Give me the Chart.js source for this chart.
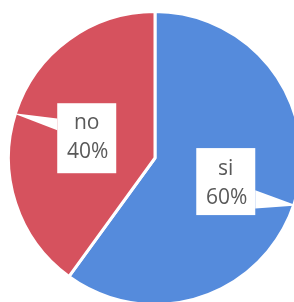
<!DOCTYPE html>
<html><head><meta charset="utf-8">
<script src="https://cdn.jsdelivr.net/npm/chart.js@4/dist/chart.umd.min.js"></script>
<style>
html,body{margin:0;padding:0;background:#fff;overflow:hidden;width:294px;height:302px;}
#wrap{position:absolute;left:-5px;top:-2px;width:320px;height:320px;}
</style></head>
<body>
<div id="wrap"><canvas id="c" width="320" height="320"></canvas></div>
<script>
const categories = ["si", "no"];
const values = [60, 40];
const percentLabels = ["60%", "40%"];
const colors = ["#558bdc", "#d6525e"];

// callout geometry in units of pie radius (box center, box size, pointer)
const callouts = [
  {cx: 0.483, cy: 0.161, w: 59, h: 67, side: 'right', b1: 0.22, b2: 0.345, tipAng: 18.5},
  {cx: -0.466, cy: -0.135, w: 59, h: 70, side: 'left', b1: -0.27, b2: -0.19, tipAng: 197.5}
];

const calloutPlugin = {
  id: 'callouts',
  afterDatasetsDraw(chart) {
    const ctx = chart.ctx;
    const meta = chart.getDatasetMeta(0);
    meta.data.forEach((arc, i) => {
      const {x, y, outerRadius: r} = arc.getProps(['x','y','outerRadius'], true);
      const c = callouts[i];
      const bx = x + c.cx * r, by = y + c.cy * r;
      const left = bx - c.w/2, top = by - c.h/2;
      const ex = c.side === 'right' ? left + c.w : left;
      const a = c.tipAng * Math.PI/180;
      const tx = x + Math.cos(a) * (r + 3), ty = y + Math.sin(a) * (r + 3);
      ctx.save();
      ctx.fillStyle = '#ffffff';
      ctx.beginPath();
      ctx.moveTo(ex, y + c.b1 * r);
      ctx.lineTo(tx, ty);
      ctx.lineTo(ex, y + c.b2 * r);
      ctx.closePath();
      ctx.fill();
      ctx.fillRect(left, top, c.w, c.h);
      ctx.fillStyle = '#595959';
      ctx.font = '21px "Open Sans"';
      ctx.textAlign = 'center';
      ctx.textBaseline = 'middle';
      const dy = i === 1 ? -2 : 0;
      ctx.fillText(categories[i], bx, by - 13 + dy);
      ctx.fillText(percentLabels[i], bx + 1, by + 16 + dy);
      ctx.restore();
    });
  }
};

new Chart(document.getElementById('c'), {
  type: 'pie',
  data: {
    labels: categories,
    datasets: [{
      data: values,
      backgroundColor: colors,
      borderColor: '#ffffff',
      borderWidth: 3
    }]
  },
  options: {
    responsive: false,
    animation: false,
    layout: {padding: 12},
    plugins: {legend: {display: false}, tooltip: {enabled: false}}
  },
  plugins: [calloutPlugin]
});
</script>
</body></html>
